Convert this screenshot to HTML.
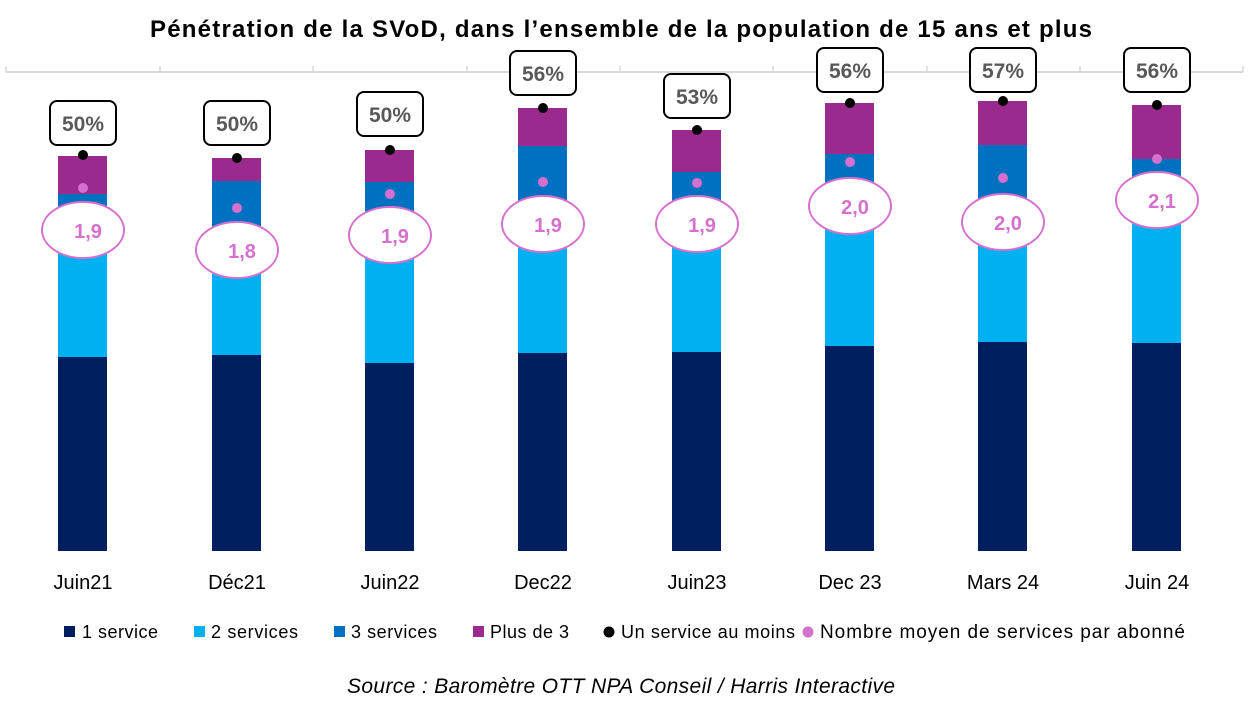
<!DOCTYPE html>
<html><head><meta charset="utf-8"><style>
html,body{margin:0;padding:0;background:#fff;}
svg{display:block;}
</style></head><body>
<svg width="1249" height="708" viewBox="0 0 1249 708" xmlns="http://www.w3.org/2000/svg" font-family="Liberation Sans, sans-serif">
<text x="621" y="37" text-anchor="middle" font-size="24" font-weight="bold" fill="#000" textLength="942" lengthAdjust="spacing">Pénétration de la SVoD, dans l’ensemble de la population de 15 ans et plus</text>
<line x1="6" y1="72" x2="1243" y2="72" stroke="#d9d9d9" stroke-width="2"/>
<g stroke="#d9d9d9" stroke-width="1.5">
<line x1="6" y1="66" x2="6" y2="72"/><line x1="160" y1="66" x2="160" y2="72"/><line x1="313" y1="66" x2="313" y2="72"/><line x1="467" y1="66" x2="467" y2="72"/><line x1="620" y1="66" x2="620" y2="72"/><line x1="773" y1="66" x2="773" y2="72"/><line x1="927" y1="66" x2="927" y2="72"/><line x1="1080" y1="66" x2="1080" y2="72"/><line x1="1243" y1="66" x2="1243" y2="72"/>
</g>
<g>
<rect x="58" y="156" width="49" height="395" fill="#9b2a8e"/><rect x="58" y="194" width="49" height="357" fill="#0070c0"/><rect x="58" y="230" width="49" height="321" fill="#00b0f0"/><rect x="58" y="357" width="49" height="194" fill="#001f5f"/>
<rect x="212" y="158" width="49" height="393" fill="#9b2a8e"/><rect x="212" y="181" width="49" height="370" fill="#0070c0"/><rect x="212" y="250" width="49" height="301" fill="#00b0f0"/><rect x="212" y="355" width="49" height="196" fill="#001f5f"/>
<rect x="365" y="150" width="49" height="401" fill="#9b2a8e"/><rect x="365" y="182" width="49" height="369" fill="#0070c0"/><rect x="365" y="235" width="49" height="316" fill="#00b0f0"/><rect x="365" y="363" width="49" height="188" fill="#001f5f"/>
<rect x="518" y="108" width="49" height="443" fill="#9b2a8e"/><rect x="518" y="146" width="49" height="405" fill="#0070c0"/><rect x="518" y="224" width="49" height="327" fill="#00b0f0"/><rect x="518" y="353" width="49" height="198" fill="#001f5f"/>
<rect x="672" y="130" width="49" height="421" fill="#9b2a8e"/><rect x="672" y="172" width="49" height="379" fill="#0070c0"/><rect x="672" y="224" width="49" height="327" fill="#00b0f0"/><rect x="672" y="352" width="49" height="199" fill="#001f5f"/>
<rect x="825" y="103" width="49" height="448" fill="#9b2a8e"/><rect x="825" y="154" width="49" height="397" fill="#0070c0"/><rect x="825" y="206" width="49" height="345" fill="#00b0f0"/><rect x="825" y="346" width="49" height="205" fill="#001f5f"/>
<rect x="978" y="101" width="49" height="450" fill="#9b2a8e"/><rect x="978" y="145" width="49" height="406" fill="#0070c0"/><rect x="978" y="222" width="49" height="329" fill="#00b0f0"/><rect x="978" y="342" width="49" height="209" fill="#001f5f"/>
<rect x="1132" y="105" width="49" height="446" fill="#9b2a8e"/><rect x="1132" y="159" width="49" height="392" fill="#0070c0"/><rect x="1132" y="200" width="49" height="351" fill="#00b0f0"/><rect x="1132" y="343" width="49" height="208" fill="#001f5f"/>
</g>
<g fill="#000">
<circle cx="83" cy="155" r="5"/><circle cx="237" cy="158" r="5"/><circle cx="390" cy="150" r="5"/><circle cx="543" cy="108" r="5"/><circle cx="697" cy="130" r="5"/><circle cx="850" cy="103" r="5"/><circle cx="1003" cy="101" r="5"/><circle cx="1157" cy="105" r="5"/>
</g>
<g fill="#d670cf">
<circle cx="83" cy="188" r="5"/><circle cx="237" cy="208" r="5"/><circle cx="390" cy="194" r="5"/><circle cx="543" cy="182" r="5"/><circle cx="697" cy="183" r="5"/><circle cx="850" cy="162" r="5"/><circle cx="1003" cy="178" r="5"/><circle cx="1157" cy="159" r="5"/>
</g>
<g fill="#fff" stroke="#d670cf" stroke-width="2">
<ellipse cx="83" cy="230" rx="41" ry="28"/><ellipse cx="237" cy="250" rx="41" ry="28"/><ellipse cx="390" cy="235" rx="41" ry="28"/><ellipse cx="543" cy="224" rx="41" ry="28"/><ellipse cx="697" cy="224" rx="41" ry="28"/><ellipse cx="850" cy="206" rx="41" ry="28"/><ellipse cx="1003" cy="222" rx="41" ry="28"/><ellipse cx="1157" cy="200" rx="41" ry="28"/>
</g>
<g fill="#d670cf" font-size="20" font-weight="bold" text-anchor="middle">
<text x="88" y="238">1,9</text><text x="242" y="258">1,8</text><text x="395" y="243">1,9</text><text x="548" y="232">1,9</text><text x="702" y="232">1,9</text><text x="855" y="214">2,0</text><text x="1008" y="230">2,0</text><text x="1162" y="208">2,1</text>
</g>
<g fill="#fff" stroke="#000" stroke-width="2">
<rect x="50" y="101" width="66" height="44" rx="7"/><rect x="204" y="101" width="66" height="44" rx="7"/><rect x="357" y="92" width="66" height="44" rx="7"/><rect x="510" y="51" width="66" height="44" rx="7"/><rect x="664" y="74" width="66" height="44" rx="7"/><rect x="817" y="48" width="66" height="44" rx="7"/><rect x="970" y="48" width="66" height="44" rx="7"/><rect x="1124" y="48" width="66" height="44" rx="7"/>
</g>
<g fill="#595959" font-size="21" font-weight="bold" text-anchor="middle">
<text x="83" y="131">50%</text><text x="237" y="131">50%</text><text x="390" y="122">50%</text><text x="543" y="81">56%</text><text x="697" y="104">53%</text><text x="850" y="78">56%</text><text x="1003" y="78">57%</text><text x="1157" y="78">56%</text>
</g>
<g fill="#000" font-size="20" text-anchor="middle">
<text x="83" y="589">Juin21</text><text x="237" y="589">Déc21</text><text x="390" y="589">Juin22</text><text x="543" y="589">Dec22</text><text x="697" y="589">Juin23</text><text x="850" y="589">Dec 23</text><text x="1003" y="589">Mars 24</text><text x="1157" y="589">Juin 24</text>
</g>
<g font-size="18" fill="#000">
<rect x="64" y="626" width="11" height="11" fill="#001f5f"/><text x="82" y="638" textLength="76" lengthAdjust="spacing">1 service</text>
<rect x="194" y="626" width="11" height="11" fill="#00b0f0"/><text x="211" y="638" textLength="87" lengthAdjust="spacing">2 services</text>
<rect x="334" y="626" width="11" height="11" fill="#0070c0"/><text x="351" y="638" textLength="86" lengthAdjust="spacing">3 services</text>
<rect x="473" y="626" width="11" height="11" fill="#9b2a8e"/><text x="490" y="638" textLength="79" lengthAdjust="spacing">Plus de 3</text>
<circle cx="609" cy="632" r="5.5" fill="#000"/><text x="621" y="638" textLength="174" lengthAdjust="spacing">Un service au moins</text>
<circle cx="808" cy="632" r="5.5" fill="#d670cf"/><text x="820" y="638" font-size="19" textLength="365" lengthAdjust="spacing">Nombre moyen de services par abonné</text>
</g>
<text x="621" y="693" text-anchor="middle" font-size="21" font-style="italic" fill="#000" textLength="548" lengthAdjust="spacing">Source : Baromètre OTT NPA Conseil / Harris Interactive</text>
</svg>
</body></html>
